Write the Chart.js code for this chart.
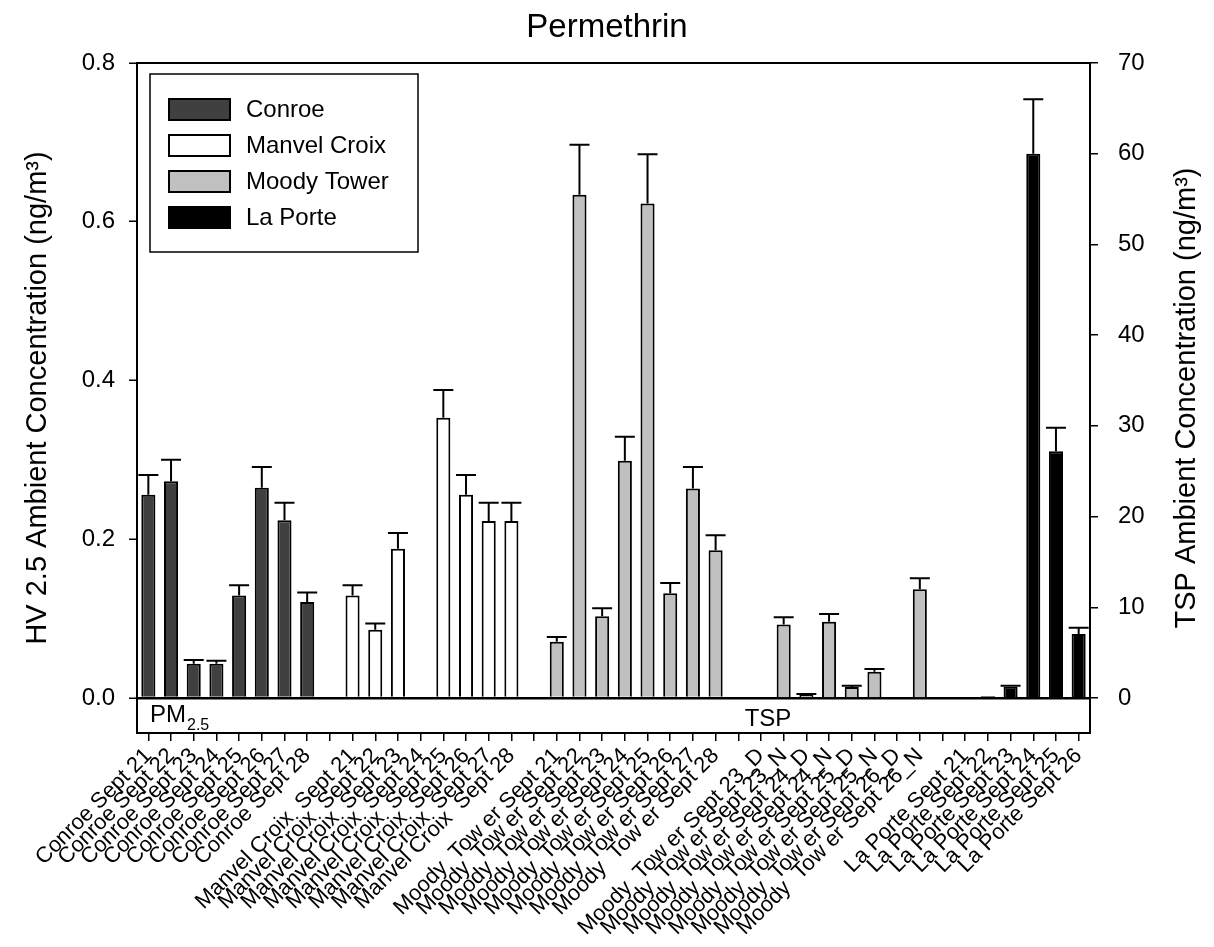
<!DOCTYPE html>
<html lang="en">
<head>
  <meta charset="UTF-8" />
  <title>Permethrin</title>
  <script src="https://cdn.jsdelivr.net/npm/chart.js"></script>
  <style>
    body {
      margin: 0;
      background: #fff;
    }
    #chart-container {
      width: 1214px;
      height: 947px;
    }
  </style>
</head>
<body>
  <div id="chart-container">
    <canvas id="barChart" width="1214" height="947"></canvas>
  </div>

  <script>
    const FONT = "'Liberation Sans', Arial, sans-serif";

    // categories of each site (an empty slot is put between groups)
    const conroeLabels = ['Conroe Sept 21', 'Conroe Sept 22', 'Conroe Sept 23', 'Conroe Sept 24',
      'Conroe Sept 25', 'Conroe Sept 26', 'Conroe Sept 27', 'Conroe Sept 28'];
    const manvelLabels = ['Manvel Croix  Sept 21', 'Manvel Croix  Sept 22', 'Manvel Croix  Sept 23', 'Manvel Croix  Sept 24',
      'Manvel Croix  Sept 25', 'Manvel Croix  Sept 26', 'Manvel Croix  Sept 27', 'Manvel Croix  Sept 28'];
    const moodyLabels = ['Moody  Tow er Sept 21', 'Moody  Tow er Sept 22', 'Moody  Tow er Sept 23', 'Moody  Tow er Sept 24',
      'Moody  Tow er Sept 25', 'Moody  Tow er Sept 26', 'Moody  Tow er Sept 27', 'Moody  Tow er Sept 28'];
    const moodyTspLabels = ['Moody  Tow er Sept 23_D', 'Moody  Tow er Sept 23_N', 'Moody  Tow er Sept 24_D', 'Moody  Tow er Sept 24_N',
      'Moody  Tow er Sept 25_D', 'Moody  Tow er Sept 25_N', 'Moody  Tow er Sept 26_D', 'Moody  Tow er Sept 26_N'];
    const laporteLabels = ['La Porte Sept 21', 'La Porte Sept 22', 'La Porte Sept 23',
      'La Porte Sept 24', 'La Porte Sept 25', 'La Porte Sept 26'];

    // PM2.5 values, left axis (ng/m3)
    const conroeValues = [0.256, 0.273, 0.043, 0.043, 0.129, 0.265, 0.224, 0.121];
    const conroeErrors = [0.025, 0.027, 0.005, 0.004, 0.013, 0.026, 0.022, 0.012];
    const manvelValues = [0.129, 0.086, 0.188, null, 0.353, 0.256, 0.223, 0.223];
    const manvelErrors = [0.013, 0.008, 0.020, null, 0.035, 0.025, 0.023, 0.023];
    const moodyValues = [0.071, 0.634, 0.103, 0.299, 0.623, 0.132, 0.264, 0.186];
    const moodyErrors = [0.006, 0.063, 0.010, 0.030, 0.062, 0.013, 0.027, 0.019];

    // TSP values, right axis (ng/m3)
    const moodyTspValues = [0.1, 8.1, 0.35, 8.4, 1.2, 2.9, 0.1, 12.0];
    const moodyTspErrors = [0, 0.8, 0.1, 0.85, 0.15, 0.3, 0, 1.2];
    const laporteValues = [0.05, 0.2, 1.25, 60.0, 27.2, 7.05];
    const laporteErrors = [0, 0, 0.1, 6.0, 2.6, 0.7];

    const leftTicks = [0, 0.2, 0.4, 0.6, 0.8];
    const rightTicks = [0, 10, 20, 30, 40, 50, 60, 70];

    // build the category list with one blank slot between groups
    const groupLabels = [conroeLabels, manvelLabels, moodyLabels, moodyTspLabels, laporteLabels];
    const categories = [];
    const offsets = [];
    groupLabels.forEach((g, i) => {
      if (i > 0) categories.push('');
      offsets.push(categories.length);
      categories.push(...g);
    });

    function spread(values, group) {
      const out = categories.map(() => null);
      values.forEach((v, i) => { out[offsets[group] + i] = v; });
      return out;
    }

    // error bars on top of each bar
    const errorBars = {
      id: 'errorBars',
      afterDatasetsDraw(chart) {
        const ctx = chart.ctx;
        ctx.save();
        ctx.strokeStyle = '#000';
        ctx.lineWidth = 2;
        chart.data.datasets.forEach((ds, i) => {
          const meta = chart.getDatasetMeta(i);
          const scale = chart.scales[ds.yAxisID];
          meta.data.forEach((bar, j) => {
            const v = ds.data[j];
            const e = ds.errors[j];
            if (v == null || !e) return;
            const yTop = scale.getPixelForValue(v + e);
            ctx.beginPath();
            ctx.moveTo(bar.x, bar.y);
            ctx.lineTo(bar.x, yTop);
            ctx.moveTo(bar.x - 10, yTop);
            ctx.lineTo(bar.x + 10, yTop);
            ctx.stroke();
          });
        });
        ctx.restore();
      }
    };

    // frame, boxed legend, PM2.5 / TSP band labels, right axis title
    const legendItems = [
      { label: 'Conroe', color: '#404040' },
      { label: 'Manvel Croix', color: '#ffffff' },
      { label: 'Moody Tower', color: '#c0c0c0' },
      { label: 'La Porte', color: '#000000' }
    ];

    const decorations = {
      id: 'decorations',
      afterDraw(chart) {
        const { ctx, chartArea: a } = chart;
        ctx.save();
        ctx.strokeStyle = '#000';
        ctx.lineWidth = 2;
        ctx.strokeRect(a.left, a.top, a.right - a.left, a.bottom - a.top);

        // legend
        const lx = 150, ly = 74;
        ctx.lineWidth = 1.5;
        ctx.fillStyle = '#fff';
        ctx.fillRect(lx, ly, 268, 178);
        ctx.strokeRect(lx, ly, 268, 178);
        ctx.font = '24px ' + FONT;
        ctx.textBaseline = 'middle';
        legendItems.forEach((it, i) => {
          const y = ly + 25 + i * 36;
          ctx.fillStyle = it.color;
          ctx.fillRect(lx + 19, y, 61, 21);
          ctx.lineWidth = 2;
          ctx.strokeRect(lx + 19, y, 61, 21);
          ctx.fillStyle = '#000';
          ctx.fillText(it.label, lx + 96, y + 11);
        });

        // band labels
        ctx.textBaseline = 'alphabetic';
        ctx.fillStyle = '#000';
        ctx.font = '24px ' + FONT;
        ctx.fillText('PM', 150, a.bottom - 11);
        const pmw = ctx.measureText('PM').width;
        ctx.font = '16px ' + FONT;
        ctx.fillText('2.5', 151 + pmw, a.bottom - 3);
        ctx.font = '24px ' + FONT;
        ctx.textAlign = 'center';
        ctx.fillText('TSP', 768, a.bottom - 7);

        // right axis title, reading bottom to top
        ctx.translate(1187, (a.top + a.bottom) / 2);
        ctx.rotate(-Math.PI / 2);
        ctx.font = '29px ' + FONT;
        ctx.textBaseline = 'middle';
        ctx.fillText('TSP Ambient Concentration (ng/m³)', 0, 0);
        ctx.restore();
      }
    };

    Chart.defaults.font.family = FONT;
    Chart.defaults.color = '#000';

    const barStyle = {
      borderColor: '#000',
      borderWidth: 2,
      barPercentage: 0.62,
      categoryPercentage: 1,
      grouped: false
    };

    const ctx = document.getElementById('barChart').getContext('2d');
    const chart = new Chart(ctx, {
      type: 'bar',
      data: {
        labels: categories,
        datasets: [
          { label: 'Conroe', data: spread(conroeValues, 0), errors: spread(conroeErrors, 0),
            backgroundColor: '#404040', yAxisID: 'y', ...barStyle },
          { label: 'Manvel Croix', data: spread(manvelValues, 1), errors: spread(manvelErrors, 1),
            backgroundColor: '#ffffff', yAxisID: 'y', ...barStyle },
          { label: 'Moody Tower', data: spread(moodyValues, 2), errors: spread(moodyErrors, 2),
            backgroundColor: '#c0c0c0', yAxisID: 'y', ...barStyle },
          { label: 'Moody Tower TSP', data: spread(moodyTspValues, 3), errors: spread(moodyTspErrors, 3),
            backgroundColor: '#c0c0c0', yAxisID: 'y1', ...barStyle },
          { label: 'La Porte', data: spread(laporteValues, 4), errors: spread(laporteErrors, 4),
            backgroundColor: '#000000', yAxisID: 'y1', ...barStyle }
        ]
      },
      options: {
        responsive: false,
        animation: false,
        layout: { padding: 0 },
        plugins: {
          legend: { display: false },
          tooltip: { enabled: false },
          title: {
            display: true,
            text: 'Permethrin',
            color: '#000',
            font: { size: 33, weight: 'normal' },
            padding: { top: 8, bottom: 15.4 }
          }
        },
        scales: {
          x: {
            offset: true,
            border: { display: false },
            grid: { offset: false, drawOnChartArea: false, tickColor: '#000', tickLength: 8, lineWidth: 1.5 },
            ticks: { autoSkip: false, minRotation: 45, maxRotation: 45, padding: 2, font: { size: 22 } },
            afterFit(scale) { scale.height = 214; }
          },
          y: {
            position: 'left',
            min: -0.0441,
            max: 0.8,
            afterBuildTicks(scale) { scale.ticks = leftTicks.map(v => ({ value: v })); },
            border: { display: false },
            grid: {
              color: c => (c.tick && c.tick.value === 0 ? '#000' : 'rgba(0,0,0,0)'),
              lineWidth: 2.5,
              tickColor: '#000',
              tickLength: 8,
              tickWidth: 1.5
            },
            ticks: { padding: 14, font: { size: 24 }, callback: v => v.toFixed(1) },
            title: {
              display: true,
              text: 'HV 2.5 Ambient Concentration (ng/m³)',
              font: { size: 29 },
              padding: { top: 21, bottom: 0 }
            },
            afterFit(scale) { scale.width = 137; }
          },
          y1: {
            position: 'right',
            min: -3.86,
            max: 70,
            afterBuildTicks(scale) { scale.ticks = rightTicks.map(v => ({ value: v })); },
            border: { display: false },
            grid: { drawOnChartArea: false, tickColor: '#000', tickLength: 8, lineWidth: 1.5 },
            ticks: { padding: 20, font: { size: 24 }, callback: v => String(v) },
            afterFit(scale) { scale.width = 124; }
          }
        }
      },
      plugins: [errorBars, decorations]
    });
  </script>
</body>
</html>
